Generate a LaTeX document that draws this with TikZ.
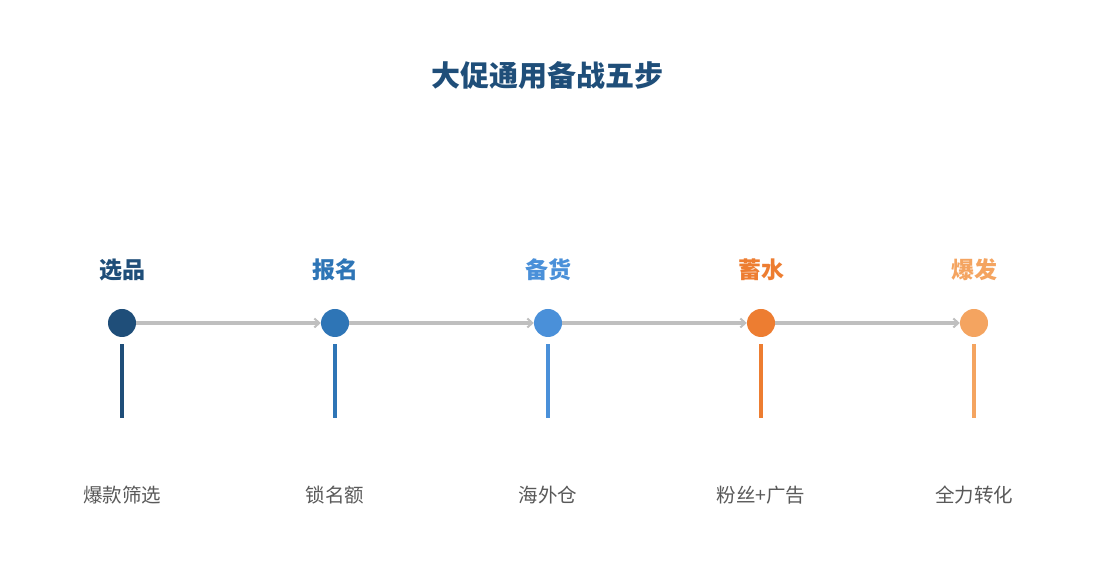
\documentclass[tikz,border=0pt]{standalone}
\usepackage{fontspec}
\setmainfont{Noto Sans CJK SC}
\usetikzlibrary{positioning, arrows.meta}

\definecolor{cA}{HTML}{1F4E79}
\definecolor{cB}{HTML}{2E75B6}
\definecolor{cC}{HTML}{4A90D9}
\definecolor{cD}{HTML}{ED7D31}
\definecolor{cE}{HTML}{F4A460}
\definecolor{lineGray}{HTML}{BFBFBF}
\definecolor{textGray}{HTML}{595959}

\begin{document}
\begin{tikzpicture}[x=1pt, y=1pt,
		dot/.style={circle, fill=#1, minimum size=28pt, inner sep=0pt},
		steplabel/.style={text=#1, font=\fontsize{23}{25}\selectfont\bfseries},
		desc/.style={text=textGray, font=\fontsize{19.5}{22}\selectfont},
		stem/.style={draw=#1, line width=3.5pt},
		flow/.style={draw=lineGray, line width=3.2pt, -{Straight Barb[length=5pt, width=9pt, line width=2pt]}}]
	\useasboundingbox (0,0) rectangle (1095,585);
	% title
	\node [text=cA, font=\fontsize{29}{32}\selectfont\bfseries] (title) at (547,510) {大促通用备战五步};
	% dots
	\node [dot=cA] (dot1) at (122,262) {};
	\node [dot=cB] (dot2) at (335,262) {};
	\node [dot=cC] (dot3) at (548,262) {};
	\node [dot=cD] (dot4) at (761,262) {};
	\node [dot=cE] (dot5) at (974,262) {};
	% connectors
	\draw [flow] (dot1) -- (dot2);
	\draw [flow] (dot2) -- (dot3);
	\draw [flow] (dot3) -- (dot4);
	\draw [flow] (dot4) -- (dot5);
	% step names
	\node [steplabel=cA] (name1) at (122,315) {选品};
	\node [steplabel=cB] (name2) at (335,315) {报名};
	\node [steplabel=cC] (name3) at (548,315) {备货};
	\node [steplabel=cD] (name4) at (761,315) {蓄水};
	\node [steplabel=cE] (name5) at (974,315) {爆发};
	% stems
	\draw [stem=cA] ([yshift=-7pt]dot1.south) -- ++(0,-74);
	\draw [stem=cB] ([yshift=-7pt]dot2.south) -- ++(0,-74);
	\draw [stem=cC] ([yshift=-7pt]dot3.south) -- ++(0,-74);
	\draw [stem=cD] ([yshift=-7pt]dot4.south) -- ++(0,-74);
	\draw [stem=cE] ([yshift=-7pt]dot5.south) -- ++(0,-74);
	% descriptions
	\node [desc] (desc1) at (122,90) {爆款筛选};
	\node [desc] (desc2) at (335,90) {锁名额};
	\node [desc] (desc3) at (548,90) {海外仓};
	\node [desc] (desc4) at (761,90) {粉丝+广告};
	\node [desc] (desc5) at (974,90) {全力转化};
\end{tikzpicture}
\end{document}
